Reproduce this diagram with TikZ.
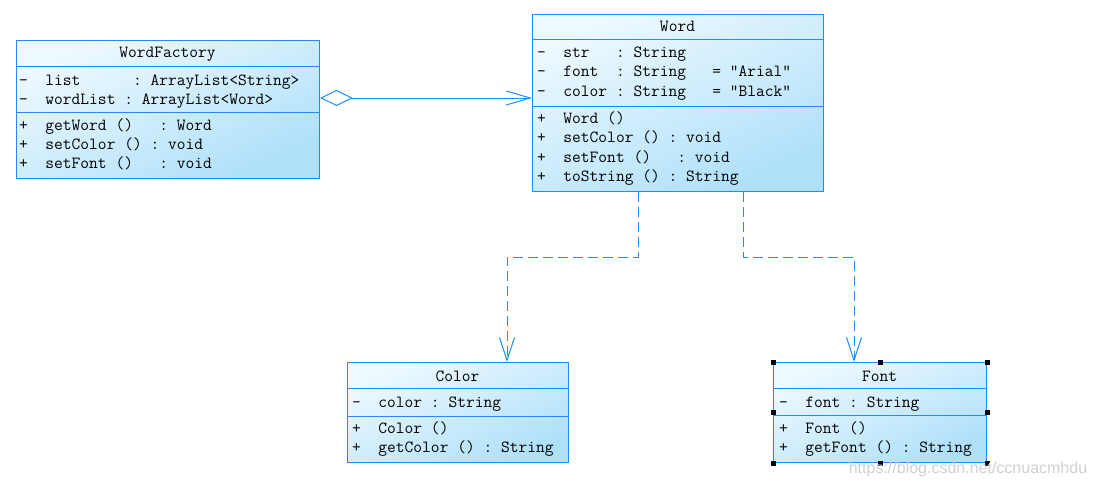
\documentclass[tikz,border=0pt]{standalone}
\usepackage{fontspec}
\newfontfamily\wmfont{Liberation Sans}
\usetikzlibrary{arrows.meta}
\definecolor{umlblue}{RGB}{30,140,250}
\definecolor{filltop}{RGB}{238,249,255}
\definecolor{fillbot}{RGB}{174,224,250}
\tikzset{
 classbox/.style={draw=umlblue, line width=1pt, top color=filltop, bottom color=fillbot, shading angle=25, inner sep=0pt, anchor=north west},
 sepline/.style={draw=umlblue, line width=1pt},
 mtxt/.style={font=\fontsize{17}{19}\selectfont\ttfamily, text=black, inner sep=0pt, anchor=base west},
 ttl/.style={mtxt, anchor=base},
 agg/.style={draw=umlblue, line width=1pt, {Diamond[fill=white,length=33pt,width=16pt]}-{Straight Barb[length=24pt,width=14pt]}},
 dep/.style={draw=umlblue, line width=1pt, dash pattern=on 10pt off 5pt, -{Straight Barb[length=23pt,width=15pt]}},
 handle/.style={fill=black},
 wm/.style={font=\wmfont\fontsize{16}{16}\selectfont, text=black!18, inner sep=0pt},
}
\begin{document}
\begin{tikzpicture}[x=1pt,y=-1pt]
\useasboundingbox (0,0) rectangle (1095,487);
\fill[white] (0,0) rectangle (1095,487);

% WordFactory
\node[classbox, minimum width=303pt, minimum height=138pt] (wf) at (16,40) {};
\draw[sepline] (wf.west |- 0,66.5) -- (wf.east |- 0,66.5);
\draw[sepline] (wf.west |- 0,112) -- (wf.east |- 0,112);
\node[ttl] (wft) at (167.5,58) {WordFactory};
\node[mtxt] (wfa1) at (19,85) {-~~list~~~~~~:~ArrayList<String>};
\node[mtxt] (wfa2) at (19,104) {-~~wordList~:~ArrayList<Word>};
\node[mtxt] (wfm1) at (19,130) {+~~getWord~()~~~:~Word};
\node[mtxt] (wfm2) at (19,149) {+~~setColor~()~:~void};
\node[mtxt] (wfm3) at (19,168) {+~~setFont~()~~~:~void};

% Word
\node[classbox, minimum width=291pt, minimum height=177pt] (word) at (532,14) {};
\draw[sepline] (word.west |- 0,40) -- (word.east |- 0,40);
\draw[sepline] (word.west |- 0,106) -- (word.east |- 0,106);
\node[ttl] (wordt) at (677.5,32) {Word};
\node[mtxt] (worda1) at (537,58) {-~~str~~~:~String};
\node[mtxt] (worda2) at (537,77) {-~~font~~:~String~~~=~“Arial”};
\node[mtxt] (worda3) at (537,96) {-~~color~:~String~~~=~"Black"};
\node[mtxt] (wordm1) at (537,123) {+~~Word~()};
\node[mtxt] (wordm2) at (537,142) {+~~setColor~()~:~void};
\node[mtxt] (wordm3) at (537,162) {+~~setFont~()~~~:~void};
\node[mtxt] (wordm4) at (537,181) {+~~toString~()~:~String};

% Color
\node[classbox, minimum width=221pt, minimum height=100pt] (color) at (347,362) {};
\draw[sepline] (color.west |- 0,388) -- (color.east |- 0,388);
\draw[sepline] (color.west |- 0,416) -- (color.east |- 0,416);
\node[ttl] (colort) at (457.5,381) {Color};
\node[mtxt] (colora1) at (352,407) {-~~color~:~String};
\node[mtxt] (colorm1) at (352,433) {+~~Color~()};
\node[mtxt] (colorm2) at (352,452) {+~~getColor~()~:~String};

% Font
\node[classbox, minimum width=213pt, minimum height=100pt] (font) at (773,362) {};
\draw[sepline] (font.west |- 0,388) -- (font.east |- 0,388);
\draw[sepline] (font.west |- 0,415) -- (font.east |- 0,415);
\node[ttl] (fontt) at (879.5,381) {Font};
\node[mtxt] (fonta1) at (779,407) {-~~font~:~String};
\node[mtxt] (fontm1) at (779,433) {+~~Font~()};
\node[mtxt] (fontm2) at (779,452) {+~~getFont~()~:~String};

% connectors
\draw[agg] (wf.east |- 0,98) -- (word.west |- 0,98);
\draw[dep] (word.south -| 638,0) -- (638,257) -| (color.north -| 507,0);
\draw[dep] (word.south -| 743,0) -- (743,257) -| (font.north -| 854,0);

% selection handles
\foreach \a in {north west,north,north east,west,east,south west,south,south east}
  \fill[handle] ([shift={(-2.5,-2.5)}]font.\a) rectangle ++(5,5);

% watermark
\node[wm] (wmark) at (968,469) {https://blog.csdn.net/ccnuacmhdu};
\end{tikzpicture}
\end{document}
